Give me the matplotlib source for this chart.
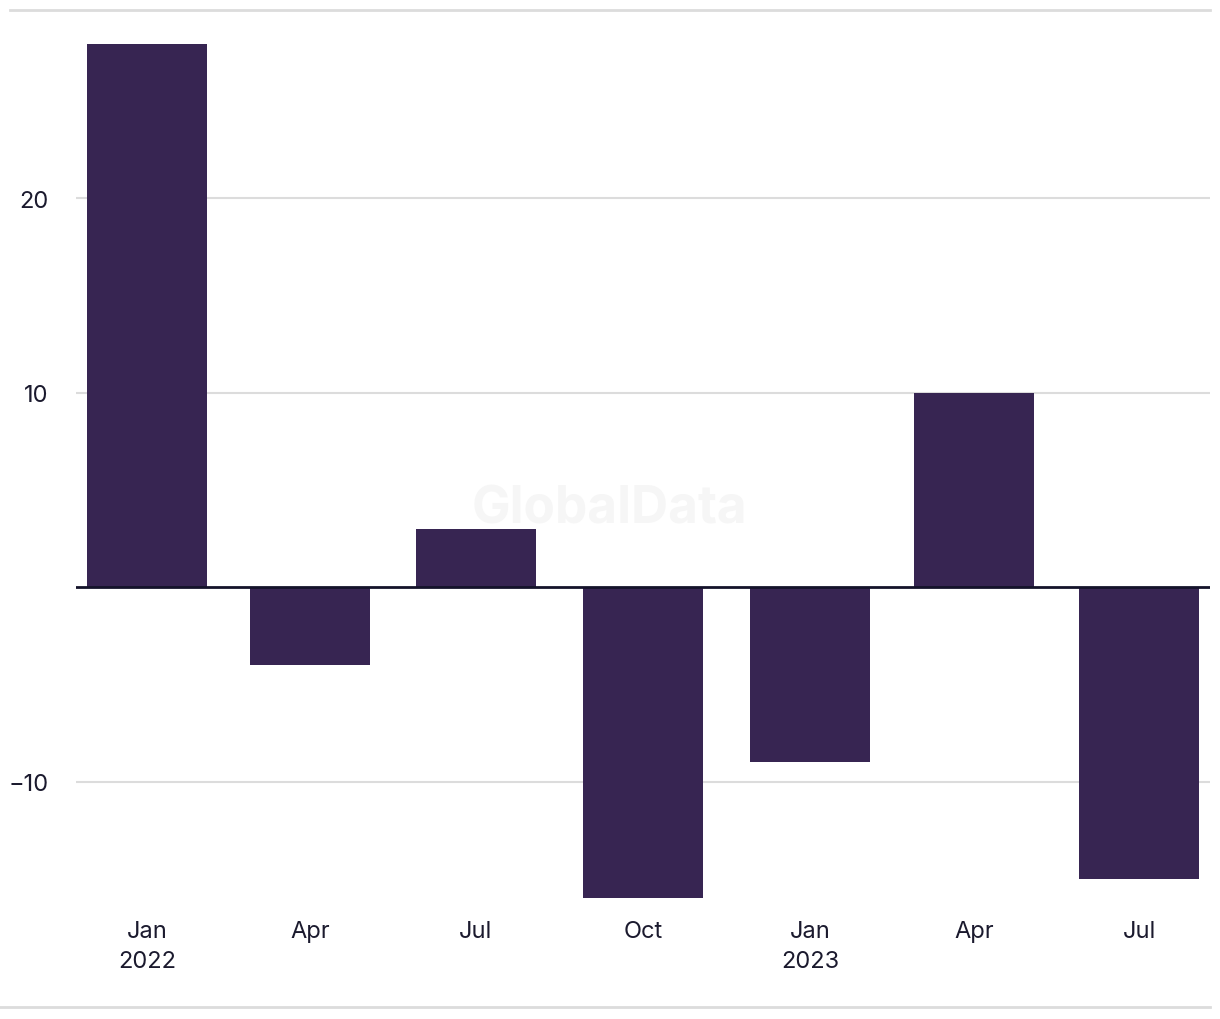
import numpy as np
import matplotlib.pyplot as plt
import matplotlib.dates as mdates
from matplotlib.lines import Line2D
import datetime as dt

# quarterly values
quarters = [dt.date(2022, 1, 1), dt.date(2022, 4, 1), dt.date(2022, 7, 1),
            dt.date(2022, 10, 1), dt.date(2023, 1, 1), dt.date(2023, 4, 1),
            dt.date(2023, 7, 1)]
values = [27.9, -4, 3, -16, -9, 10, -15]
tick_labels = ["Jan\n2022", "Apr", "Jul", "Oct", "Jan\n2023", "Apr", "Jul"]
yticks = [-10, 10, 20]

plt.rcParams['font.family'] = ['Inter', 'DejaVu Sans']
text_col = "#1b1a2e"
bar_col = "#372552"

fig = plt.figure(figsize=(12.2, 10.2), dpi=100)
W, H = 1220, 1020
ax = fig.add_axes([76 / W, 1 - 902 / H, (1210 - 76) / W, (902 - 32) / H])

x = mdates.date2num(quarters)
ax.bar(x, values, width=66, color=bar_col, zorder=2)

ax.set_xlim(x[0] - 39, x[-1] + 39)
ax.set_ylim(-16.14, 28.59)

ax.set_yticks(yticks)
ax.set_yticklabels(["\u221210", "10", "20"])
ax.set_xticks(x)
ax.set_xticklabels(tick_labels, linespacing=1.45)
ax.tick_params(axis='both', length=0, labelsize=17, colors=text_col)
ax.tick_params(axis='y', pad=20)
ax.tick_params(axis='x', pad=14)

ax.yaxis.grid(True, color="#dcdcdc", linewidth=1.5, zorder=0)
ax.set_axisbelow(True)
ax.axhline(0, color="#14132a", linewidth=2, zorder=3)
for s in ax.spines.values():
    s.set_visible(False)

ax.text(0.47, 0.45, "GlobalData", transform=ax.transAxes, ha='center', va='center',
        fontsize=37, fontweight='bold', color="#f6f6f6", zorder=1)

# frame lines at the top and bottom of the figure
fig.add_artist(Line2D([10 / W, 1210 / W], [1 - 11 / H, 1 - 11 / H], color="#dcdcdc", linewidth=2))
fig.add_artist(Line2D([0, 1210 / W], [1 - 1008 / H, 1 - 1008 / H], color="#dcdcdc", linewidth=2))

fig.savefig("out.png", dpi=100)
